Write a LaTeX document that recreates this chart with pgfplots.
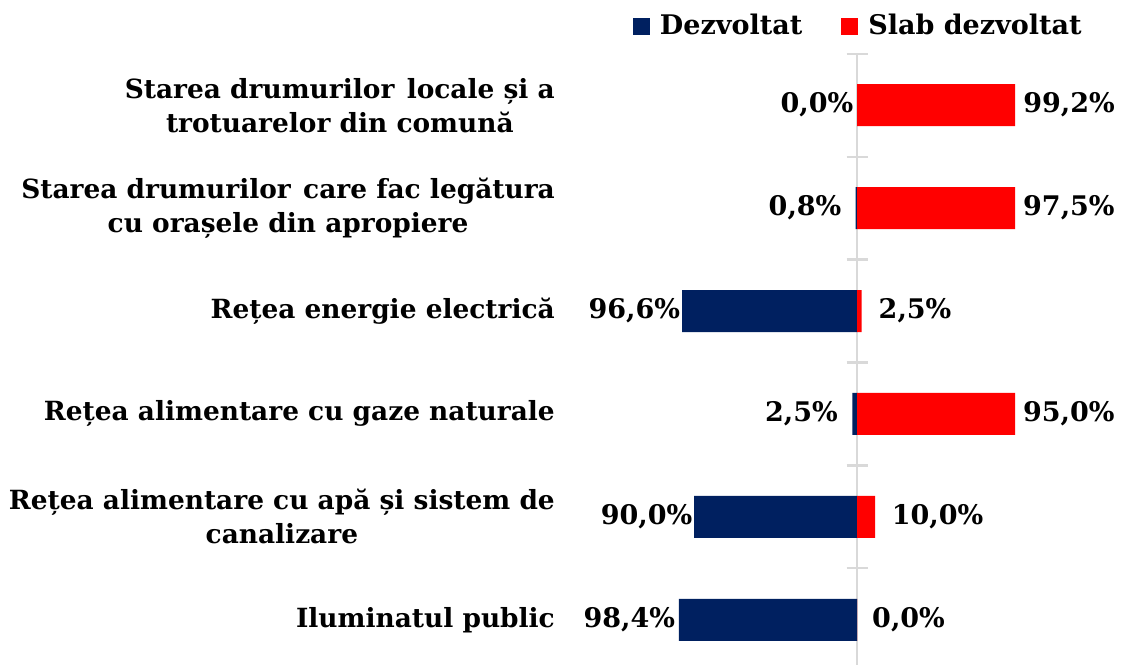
\documentclass[border=0pt]{standalone}
\usepackage{pgfplots}
\pgfplotsset{compat=1.18}
\usepackage{pgfplotstable}
\usepackage{fontspec}
\setmainfont{DejaVu Serif}
\definecolor{navy}{HTML}{002060}
\definecolor{redx}{HTML}{FF0000}
\definecolor{axgray}{HTML}{D9D9D9}

\pgfplotstableread{
y dez slab dxb dxr
0 98.4 0.0 -3.7 15
1 90.0 10.0 -1.6 16.5
2 2.5 95.0 -14.5 -6
3 96.6 2.5 -2 17
4 0.8 97.5 -14 -10.5
5 0.0 99.2 -3.5 -13.4
}\datatable

\pgfplotsset{
 common/.style={at={(560pt,-7.3pt)}, anchor=south west, scale only axis,
   width=455pt, height=617.6pt, xmin=-164.1, xmax=87.3, ymin=-0.5, ymax=5.5},
 pct/.style={nodes near coords={\pgfmathprintnumber[fixed,fixed zerofill,precision=1,use comma,assume math mode=true]{\pgfplotspointmeta}\%}},
}

\begin{document}
\fontsize{27pt}{34pt}\selectfont\bfseries
\begin{tikzpicture}
\useasboundingbox (0,0) rectangle (1123pt,664pt);
% centre axis with cross ticks between categories
\begin{axis}[common,
 axis x line=none, axis y line=center, axis line style={-, draw=axgray, line width=2.2pt},
 ytick={-0.5,0.5,...,5.5}, yticklabels={}, xtick=\empty,
 major tick length=21pt, tick align=center, tick style={draw=axgray, line width=2.2pt},
]
\end{axis}
% bars (clipped at the axis' right end), categories and legend
\begin{axis}[common,
 axis line style={draw=none}, xtick=\empty, ytick={0,...,5}, major tick length=0pt,
 yticklabels={{Iluminatul public},
   {Rețea alimentare cu apă și sistem de\\canalizare},
   {Rețea alimentare cu gaze naturale},
   {Rețea energie electrică},
   {Starea drumurilor\hspace{0.12em} care fac legătura\\cu orașele din apropiere},
   {Starea drumurilor\hspace{0.12em} locale și a\\trotuarelor din comună}},
 yticklabel style={align=center, inner sep=0pt, xshift=-5pt,
   font=\fontsize{26.4pt}{34pt}\selectfont\bfseries},
 xbar, bar width=42pt, bar shift=0pt,
 legend columns=2,
 legend style={draw=none, fill=none, inner sep=0pt, outer sep=0pt,
   at={(rel axis cs:0.1604,1.0437)}, anchor=west,
   nodes={inner sep=0pt},
   /tikz/every odd column/.append style={column sep=10pt},
   /tikz/every even column/.append style={column sep=39pt}},
 legend image code/.code={\fill[#1] (0pt,-8.5pt) rectangle (17pt,8.5pt);},
]
\addplot[fill=navy, draw=none] table[x expr=-\thisrow{dez}, y=y]{\datatable};
\addlegendentry{Dezvoltat}
\addplot[fill=redx, draw=none] table[x=slab, y=y]{\datatable};
\addlegendentry{Slab dezvoltat}
\end{axis}
% value labels (not clipped)
\begin{axis}[common, clip=false, hide axis]
\addplot[draw=none, mark=none, point meta=explicit, pct,
  visualization depends on={\thisrow{dxb} \as \dx},
  every node near coord/.append style={anchor=east, inner sep=0pt, xshift=\dx pt, text=black}]
  table[x expr=-\thisrow{dez}, y=y, meta=dez]{\datatable};
\addplot[draw=none, mark=none, point meta=explicit, pct,
  visualization depends on={\thisrow{dxr} \as \dr},
  every node near coord/.append style={anchor=west, inner sep=0pt, xshift=\dr pt, text=black}]
  table[x=slab, y=y, meta=slab]{\datatable};
\end{axis}
\end{tikzpicture}
\end{document}
